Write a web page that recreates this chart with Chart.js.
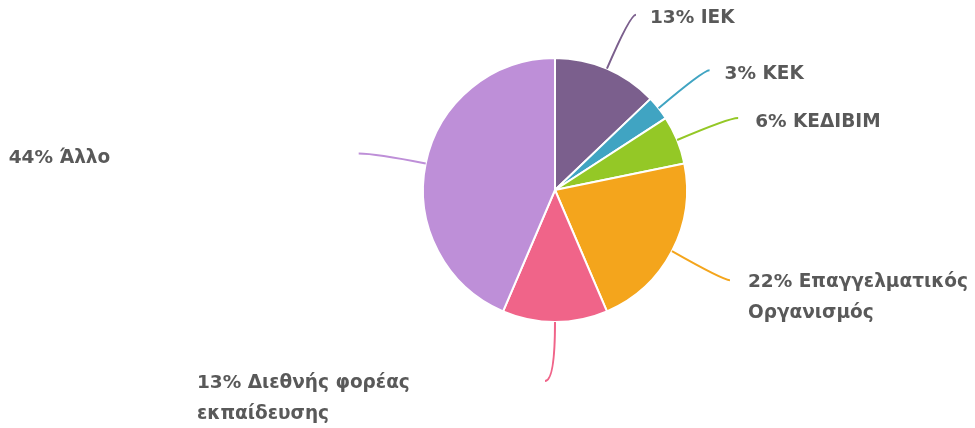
<!DOCTYPE html>
<html>
<head>
<meta charset="utf-8">
<script src="https://cdn.jsdelivr.net/npm/chart.js@4/dist/chart.umd.min.js"></script>
<style>
  html, body { margin: 0; padding: 0; background: #ffffff; }
  #wrap { width: 975px; height: 428px; position: relative; }
</style>
</head>
<body>
<div id="wrap"><canvas id="chart" width="975" height="428"></canvas></div>
<script>
// Categories (label lines) and share of each, in percent
const categories = [
  ['ΙΕΚ'],
  ['ΚΕΚ'],
  ['ΚΕΔΙΒΙΜ'],
  ['Επαγγελματικός', 'Οργανισμός'],
  ['Διεθνής φορέας', 'εκπαίδευσης'],
  ['Άλλο']
];
const shares = [13, 3, 6, 22, 13, 44];
const sliceColors = ['#7B5F8D', '#40A4C2', '#94C826', '#F4A51C', '#F06489', '#BE8FD8'];

// Leader line placement for each slice: end offset from the slice's outer midpoint,
// bend factor of the curve, and where the text block sits relative to the line end.
const leaderEnd = [[29, -54], [51, -38], [61, -22], [58, 29], [-10, 59], [-67, -10]];
const leaderBend = [0.8, 0.88, 0.85, 0.88, 0, 0.75];
const labelOffset = [[14, 4], [15, 4], [17, 4], [18, 2], [-348, 2], [-350, 5]];

const calloutPlugin = {
  id: 'callouts',
  afterDatasetsDraw(chart) {
    const ctx = chart.ctx;
    const meta = chart.getDatasetMeta(0);
    ctx.save();
    ctx.font = 'bold 18.5px "DejaVu Sans", Verdana, sans-serif';
    ctx.textBaseline = 'middle';
    ctx.textAlign = 'left';
    meta.data.forEach((arc, i) => {
      const p = arc.getProps(['x', 'y', 'startAngle', 'endAngle', 'outerRadius'], true);
      const mid = (p.startAngle + p.endAngle) / 2;
      const sx = p.x + Math.cos(mid) * p.outerRadius;
      const sy = p.y + Math.sin(mid) * p.outerRadius;
      const ex = sx + leaderEnd[i][0];
      const ey = sy + leaderEnd[i][1];
      const cx = sx + (ex - sx) * leaderBend[i];
      const cy = ey;
      ctx.strokeStyle = sliceColors[i];
      ctx.lineWidth = 2;
      ctx.beginPath();
      ctx.moveTo(sx, sy);
      ctx.quadraticCurveTo(cx, cy, ex, ey);
      ctx.stroke();

      ctx.fillStyle = '#595959';
      const lines = categories[i].slice();
      lines[0] = shares[i] + '% ' + lines[0];
      const tx = ex + labelOffset[i][0];
      let ty = ey + labelOffset[i][1];
      lines.forEach((ln, k) => {
        ctx.fillText(ln, tx, ty + k * 31);
      });
    });
    ctx.restore();
  }
};

new Chart(document.getElementById('chart'), {
  type: 'pie',
  data: {
    labels: categories.map(c => c.join(' ')),
    datasets: [{
      data: shares,
      backgroundColor: sliceColors,
      borderColor: '#ffffff',
      borderWidth: 2
    }]
  },
  options: {
    responsive: false,
    animation: false,
    layout: { padding: { top: 57, bottom: 105, left: 300, right: 165 } },
    plugins: {
      legend: { display: false },
      tooltip: { enabled: false }
    }
  },
  plugins: [calloutPlugin]
});
</script>
</body>
</html>
